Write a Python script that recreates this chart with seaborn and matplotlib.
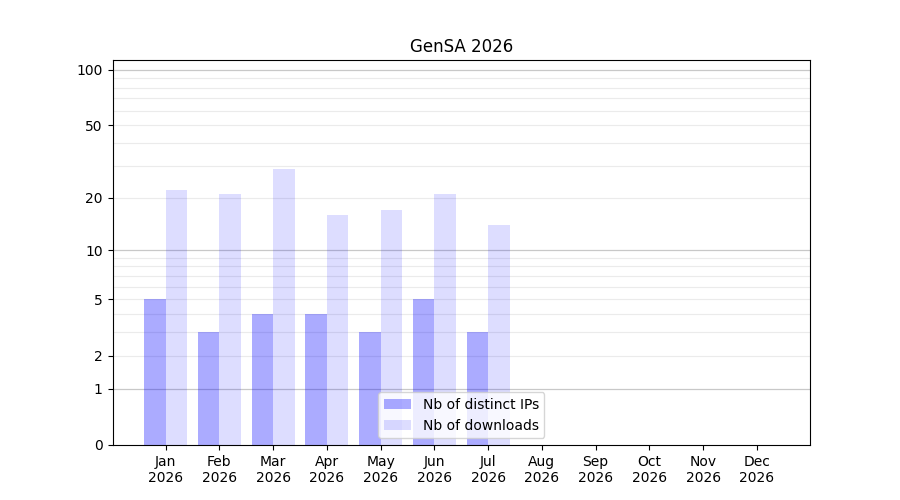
import numpy as np
import pandas as pd
import matplotlib
matplotlib.use('Agg')
import matplotlib.pyplot as plt
import seaborn as sns

#Data
months = ['Jan', 'Feb', 'Mar', 'Apr', 'May', 'Jun', 'Jul', 'Aug', 'Sep', 'Oct', 'Nov', 'Dec']
year = '2026'
distinct_ips = [5, 3, 4, 4, 3, 5, 3, 0, 0, 0, 0, 0]
downloads = [22, 21, 29, 16, 17, 21, 14, 0, 0, 0, 0, 0]
series_names = ['Nb of distinct IPs', 'Nb of downloads']
yticks = [0, 1, 2, 5, 10, 20, 50, 100]

labels = [m + '\n' + year for m in months]
df = pd.DataFrame({
    'month': labels * 2,
    'series': [series_names[0]] * 12 + [series_names[1]] * 12,
    'value': distinct_ips + downloads,
})

fig, ax = plt.subplots(figsize=(9, 5), dpi=100)

sns.barplot(data=df, x='month', y='value', hue='series', order=labels,
            palette=['blue', 'blue'], saturation=1, errorbar=None,
            linewidth=0, legend=False, ax=ax)

#transparency per series
alphas = [0.33, 0.133]
for cont, a in zip(ax.containers, alphas):
    for p in cont:
        p.set_alpha(a)

#log(1+x) scale so that zero fits
ax.set_yscale('function', functions=(lambda y: np.log10(np.maximum(y, 0) + 1),
                                     lambda y: 10 ** y - 1))
ax.set_ylim(0, 113)
ax.set_yticks(yticks)
ax.set_yticklabels([str(t) for t in yticks])
minor = [k * d for d in (1, 10) for k in range(2, 10)]
ax.set_yticks(minor, minor=True)
ax.yaxis.remove_overlapping_locs = False
ax.tick_params(axis='y', which='minor', length=0)
ax.grid(axis='y', which='minor', color='#ebebeb', linewidth=0.8)
for d in (1, 10, 100):
    ax.axhline(d, color='#c8c8c8', linewidth=0.9, zorder=0.5)
ax.set_axisbelow(True)

ax.set_xlim(-0.99, 11.99)
ax.set_xlabel('')
ax.set_ylabel('')
ax.set_title('GenSA ' + year)
ax.legend(ax.containers, series_names, loc='lower center')

fig.savefig('out.png', dpi=100)
